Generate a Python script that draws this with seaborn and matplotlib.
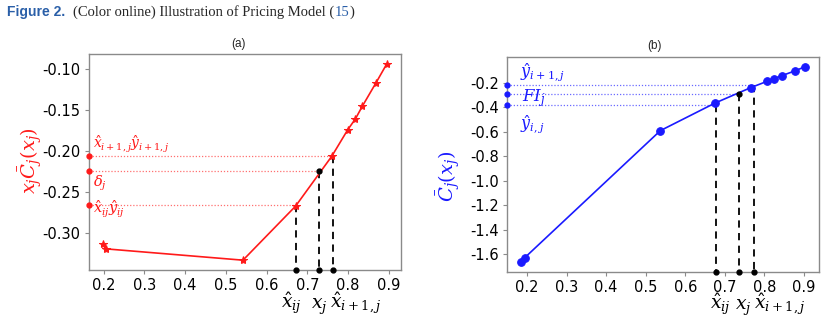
import matplotlib
matplotlib.use("Agg")
import matplotlib.pyplot as plt
import seaborn as sns
import pandas as pd
from matplotlib.ticker import FormatStrFormatter

# ---------------- data ----------------
a_x = [0.199, 0.205, 0.542, 0.671, 0.760, 0.799, 0.818, 0.835, 0.868, 0.895]
a_y = [-0.3135, -0.3188, -0.3326, -0.2669, -0.2061, -0.1740, -0.1606, -0.1452, -0.1172, -0.0937]
a_guide_x = [0.671, 0.729, 0.762]
a_guide_y = [-0.2657, -0.2235, -0.2061]

b_x = [0.185, 0.194, 0.537, 0.675, 0.766, 0.807, 0.824, 0.844, 0.878, 0.9025]
b_y = [-1.667, -1.630, -0.592, -0.367, -0.240, -0.189, -0.168, -0.143, -0.103, -0.070]
b_guide_x = [0.677, 0.736, 0.774]
b_guide_y = [-0.381, -0.292, -0.219]

x_ticks = [0.2, 0.3, 0.4, 0.5, 0.6, 0.7, 0.8, 0.9]
a_y_ticks = [-0.30, -0.25, -0.20, -0.15, -0.10]
b_y_ticks = [-1.6, -1.4, -1.2, -1.0, -0.8, -0.6, -0.4, -0.2]

a_inner_labels = [r"$\hat{x}_{ij}\hat{y}_{ij}$", r"$\delta_j$", r"$\hat{x}_{i+1,j}\hat{y}_{i+1,j}$"]
b_inner_labels = [r"$\hat{y}_{i,j}$", r"$FI_j$", r"$\hat{y}_{i+1,j}$"]
bottom_labels = [r"$\hat{x}_{ij}$", r"$x_j$", r"$\hat{x}_{i+1,j}$"]
a_ylabel = r"$x_j\bar{C}_j(x_j)$"
b_ylabel = r"$\bar{C}_j(x_j)$"

RED = "#ff1a1a"
BLUE = "#1a1aff"

sns.set_theme(style="ticks")
plt.rcParams["font.family"] = ["DejaVu Sans"]
plt.rcParams["axes.unicode_minus"] = False
plt.rcParams["mathtext.fontset"] = "dejavuserif"

W, H = 832, 322
fig = plt.figure(figsize=(W / 100, H / 100), dpi=100)


def px_axes(l, t, r, b):
    return fig.add_axes([l / W, 1 - b / H, (r - l) / W, (b - t) / H])


ax_a = px_axes(89, 54, 401, 270)
ax_b = px_axes(507, 57, 819, 272)


def panel(ax, xs, ys, color, dotcolor, marker, ms, gx, gy, yticks, yfmt):
    df = pd.DataFrame({"x": xs, "y": ys})
    sns.lineplot(data=df, x="x", y="y", ax=ax, color=color, marker=marker,
                 markersize=ms, markeredgecolor=color, markerfacecolor=color,
                 linewidth=1.2, sort=False, estimator=None)
    ax.margins(0.05)
    ax.autoscale_view()
    x0, x1 = ax.get_xlim()
    y0, y1 = ax.get_ylim()
    ax.set_xlim(x0, x1)
    ax.set_ylim(y0, y1)
    for xv, yv in zip(gx, gy):
        ax.plot([x0, xv], [yv, yv], ls=(0, (1, 1.5)), color=dotcolor, lw=0.9, zorder=1)
        ax.plot([xv, xv], [yv, y0], ls=(0, (4, 3)), color="black", lw=1.3, zorder=1)
    ax.plot(gx[1], gy[1], "o", color="black", ms=3.5, zorder=4)
    ax.plot([x0] * len(gy), gy, "o", color=color, ms=3.5, clip_on=False, zorder=5)
    ax.plot(gx, [y0] * len(gx), "o", color="black", ms=3.5, clip_on=False, zorder=5)
    ax.set_xticks(x_ticks)
    ax.set_yticks(yticks)
    ax.xaxis.set_major_formatter(FormatStrFormatter("%.1f"))
    ax.yaxis.set_major_formatter(FormatStrFormatter(yfmt))
    ax.set_xlabel("")
    ax.set_ylabel("")
    for s in ax.spines.values():
        s.set_visible(True)
        s.set_color("#8a8a8a")
        s.set_linewidth(1.0)
    ax.tick_params(axis="both", colors="#8a8a8a", labelcolor="black",
                   labelsize=10.5, length=3, width=0.8, pad=3)
    return x0, y0


# ---- panel (a)
panel(ax_a, a_x, a_y, RED, "#ff7070", "*", 6, a_guide_x, a_guide_y, a_y_ticks, "%.2f")
# ---- panel (b)
panel(ax_b, b_x, b_y, BLUE, "#6a6aff", "o", 5.5, b_guide_x, b_guide_y, b_y_ticks, "%.1f")

# inner labels (a)
ax_a.annotate(a_inner_labels[2], xy=(0, a_guide_y[2]), xycoords=("axes fraction", "data"),
              xytext=(4, 1), textcoords="offset pixels", color=RED, fontsize=10,
              ha="left", va="bottom")
ax_a.annotate(a_inner_labels[1], xy=(0, a_guide_y[1]), xycoords=("axes fraction", "data"),
              xytext=(4, -3), textcoords="offset pixels", color=RED, fontsize=10.5,
              ha="left", va="top")
ax_a.annotate(a_inner_labels[0], xy=(0, a_guide_y[0]), xycoords=("axes fraction", "data"),
              xytext=(4, -4), textcoords="offset pixels", color=RED, fontsize=10.5,
              ha="left", va="center")

# inner labels (b)
ax_b.annotate(b_inner_labels[2], xy=(0, b_guide_y[2]), xycoords=("axes fraction", "data"),
              xytext=(13, 2), textcoords="offset pixels", color=BLUE, fontsize=11.5,
              ha="left", va="bottom")
ax_b.annotate(b_inner_labels[1], xy=(0, b_guide_y[1]), xycoords=("axes fraction", "data"),
              xytext=(15, -4.5), textcoords="offset pixels", color=BLUE, fontsize=12,
              ha="left", va="center")
ax_b.annotate(b_inner_labels[0], xy=(0, b_guide_y[0]), xycoords=("axes fraction", "data"),
              xytext=(13, -19.5), textcoords="offset pixels", color=BLUE, fontsize=11.5,
              ha="left", va="center")


# bottom labels
def bottom(ax, gx, dy, offs):
    has = ["right", "center", "left"]
    for lab, xv, dx, ha in zip(bottom_labels, gx, offs, has):
        ax.annotate(lab, xy=(xv, 0), xycoords=("data", "axes fraction"),
                    xytext=(dx, -dy), textcoords="offset pixels", fontsize=13.5,
                    ha=ha, va="baseline", color="black")


bottom(ax_a, a_guide_x, 39, [6, 0, -3])
bottom(ax_b, b_guide_x, 38, [15, 4, 0])

# y labels
fig.text(30 / W, 1 - 161 / H, a_ylabel, rotation=90, color=RED, fontsize=14,
         ha="center", va="center")
fig.text(448 / W, 1 - 176 / H, b_ylabel, rotation=90, color=BLUE, fontsize=14,
         ha="center", va="center")

# panel titles
fig.text(239 / W, 1 - 44 / H, "(a)", family="Liberation Sans", fontsize=8.5,
         ha="center", va="center")
fig.text(655 / W, 1 - 45.5 / H, "(b)", family="Liberation Sans", fontsize=8.5,
         ha="center", va="center")

# header
HB = "#2a5fa8"
r = fig.canvas.get_renderer()
yb = 1 - 16 / H
fig.text(7 / W, yb, "Figure 2.", color=HB, fontweight="bold",
         family="Liberation Sans", fontsize=10, va="baseline")
t2 = fig.text(73 / W, yb, "(Color online) Illustration of Pricing Model (",
              family="Liberation Serif", fontsize=10.5, va="baseline")
bb = t2.get_window_extent(r)
t3 = fig.text(bb.x1 / W, yb, "15", color=HB, family="Liberation Serif",
              fontsize=10.5, va="baseline")
bb3 = t3.get_window_extent(r)
fig.text(bb3.x1 / W, yb, ")", family="Liberation Serif", fontsize=10.5, va="baseline")

fig.savefig("out.png", dpi=100)
